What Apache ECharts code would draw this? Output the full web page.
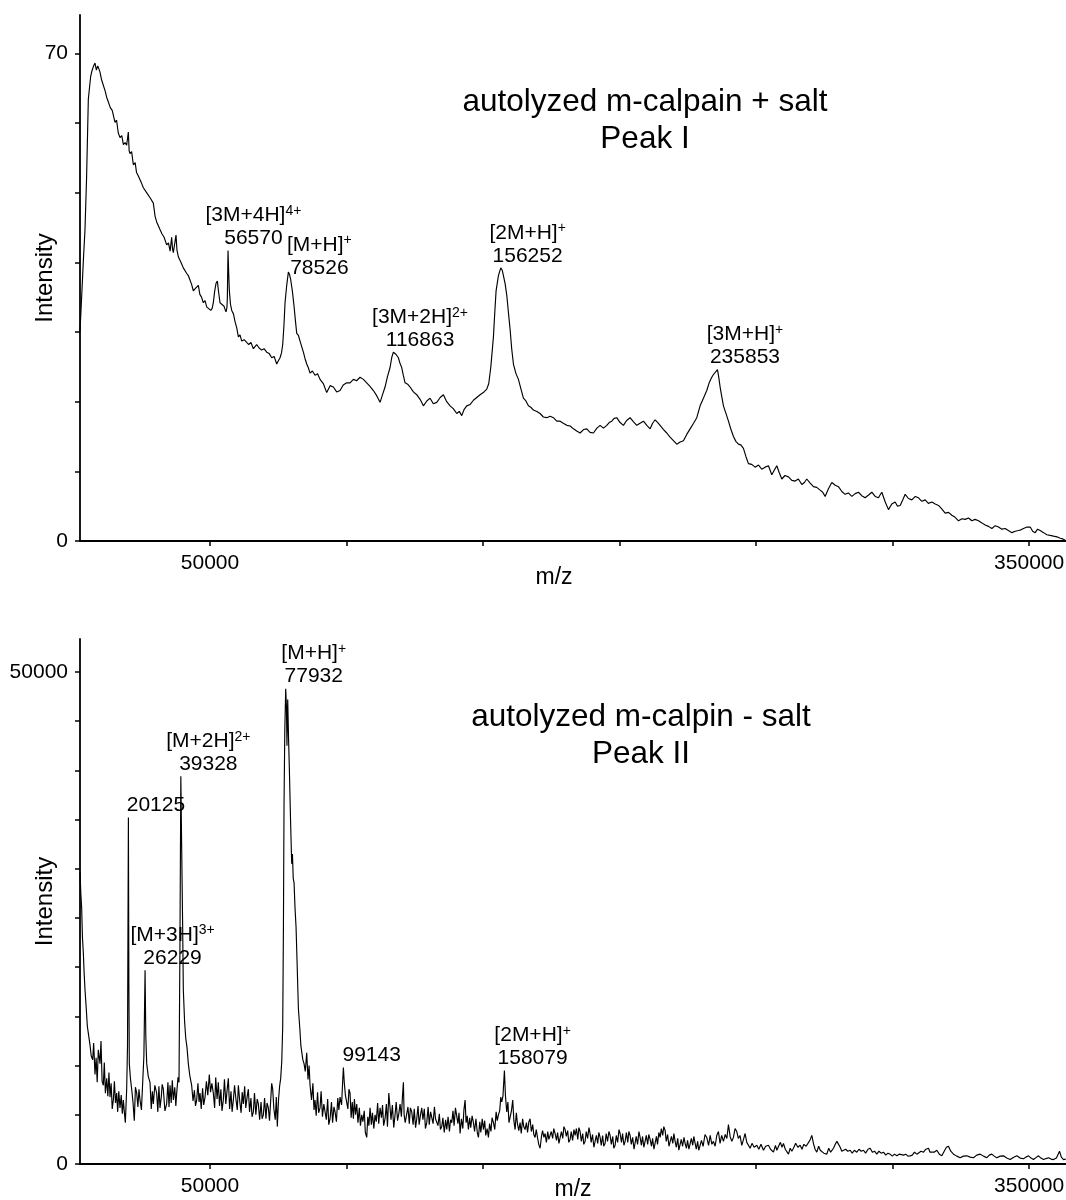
<!DOCTYPE html>
<html>
<head>
<meta charset="utf-8">
<title>autolyzed m-calpain MALDI spectra</title>
<script src="https://cdn.jsdelivr.net/npm/echarts@6.0.0/dist/echarts.min.js"></script>
<style>
  html, body { margin: 0; padding: 0; background: #fff; }
  #charts { width: 1066px; height: 1200px; }
</style>
</head>
<body>
<div id="charts"></div>
<script>
// spectrum I : autolyzed m-calpain + salt   [m/z, intensity]
var spectrumTop = [
  [2400,30.1],[3000,35],[3600,40],[4230,44.7],[4800,52],[5450,63.4],[6310,66.7],[6800,67.5],[7290,68.1],[7890,68.6],
  [8400,67.6],[8900,68.2],[9730,67.3],[10300,66.2],[11000,66.0],[11600,64.6],[12170,63.7],[12800,63.9],[13500,62.2],[14200,61.8],
  [15220,60.1],[15800,60.4],[16400,58.6],[17050,57.9],[17700,58.2],[18300,56.9],[18900,57.2],[19490,56.8],[20100,58.7],[20400,56.0],
  [20720,55.6],[21300,55.9],[21940,54.0],[22600,54.3],[23100,52.9],[23770,52.4],[24300,52.6],[25000,51.3],[25600,50.7],[26200,50.9],
  [26800,50.0],[27430,50.2],[28000,49.3],[28600,49.4],[29260,48.5],[29900,46.6],[30480,45.8],[31100,45.9],[31700,44.7],[32400,44.1],
  [33200,43.6],[34140,42.5],[34800,42.8],[35400,41.6],[35970,43.6],[36300,41.9],[36580,41.4],[37100,41.6],[37560,43.9],[37900,41.8],
  [38410,40.8],[39000,40.6],[39600,39.8],[40240,39.2],[40900,39.4],[41500,38.4],[42070,38.1],[42700,37.9],[43300,36.8],[43900,35.9],
  [44500,36.2],[45100,36.0],[45730,36.7],[46300,35.4],[46900,35.0],[47560,34.2],[48200,34.5],[48800,33.6],[49400,33.7],[50270,33.1],
  [50800,33.4],[51230,34.2],[51700,35.8],[52220,37.0],[52700,37.3],[53200,35.6],[53680,34.2],[54400,34.0],[55150,33.7],[55550,33.2],
  [55880,32.9],[56200,33.5],[56360,34.8],[56610,41.7],[56850,38.5],[57100,35.9],[57500,34.0],[57970,33.1],[58600,32.6],[59180,31.5],
  [59800,30.6],[60400,29.3],[61000,29.6],[61620,28.7],[62500,28.9],[63450,28.5],[64200,28.2],[65000,28.5],[65890,27.6],[66500,27.9],
  [67110,28.2],[68000,27.7],[68940,27.4],[69800,27.6],[70770,27.1],[71700,26.9],[72610,26.3],[73500,26.5],[74440,25.4],[75100,25.9],
  [75660,26.3],[76200,27.0],[76640,28.2],[77100,31.0],[77490,34.2],[78100,36.7],[78710,38.6],[79100,38.3],[79570,37.5],[80200,35.8],
  [80790,33.7],[81300,31.6],[81770,29.8],[82400,29.5],[82990,28.7],[83600,27.9],[84210,27.1],[84800,26.2],[85430,25.4],[86000,24.9],
  [86650,24.1],[87500,24.4],[88480,23.8],[89400,24.0],[90310,23.2],[91500,22.6],[92750,21.3],[94000,22.3],[95190,22.1],[96400,21.4],
  [97640,21.6],[98800,22.4],[100080,22.7],[101300,22.7],[102520,23.2],[103700,23.0],[104960,23.5],[106200,23.2],[107400,22.7],[108600,22.2],
  [109840,21.6],[111000,20.9],[112290,19.9],[113200,21.0],[114120,22.1],[115000,23.6],[115950,24.9],[116600,26.4],[117170,27.1],[118100,26.8],
  [119000,26.3],[119600,25.5],[120220,24.9],[120800,23.8],[121450,22.7],[122400,22.5],[123280,22.1],[124500,21.4],[125720,21.0],[127000,20.3],
  [128160,19.4],[129400,20.1],[130610,20.5],[131800,19.7],[133050,19.9],[134300,20.6],[135490,21.0],[136700,20.0],[137930,19.4],[139100,19.0],
  [140380,18.3],[141300,18.6],[142210,18.0],[143100,18.9],[144040,19.4],[145300,19.6],[146480,20.2],[147700,20.6],[148920,21.0],[150100,21.3],
  [151370,21.8],[152100,22.6],[152830,24.9],[153300,27.0],[153810,29.3],[154300,32.8],[154780,35.9],[155640,38.1],[156490,39.2],[157000,38.9],
  [157470,38.1],[158100,36.9],[158690,35.3],[159300,32.8],[159910,30.4],[160500,27.6],[161130,25.4],[162000,24.1],[162960,23.2],[163900,21.8],
  [164790,20.5],[165700,20.1],[166620,19.4],[167500,19.2],[168450,18.8],[169700,18.6],[170900,18.3],[172100,17.8],[173340,17.7],[174600,17.9],
  [175780,17.7],[177000,17.2],[178220,17.2],[179400,16.9],[180670,16.6],[181900,16.5],[183110,16.1],[184300,15.8],[185550,15.5],[186800,16.0],
  [187990,16.1],[189200,15.6],[190430,15.5],[191700,16.2],[192880,16.6],[194100,16.2],[195320,16.6],[196200,17.0],[197150,17.2],[198000,17.6],
  [198980,17.7],[200200,17.0],[201420,16.6],[202600,17.3],[203870,17.7],[205100,17.1],[206310,16.6],[207500,16.9],[208750,17.2],[210000,16.6],
  [211190,16.1],[212100,16.9],[213020,17.4],[214000,17.0],[214850,16.6],[216100,16.0],[217290,15.5],[218500,14.9],[219730,14.4],[220950,13.9],
  [222200,14.2],[223400,14.4],[224600,15.3],[225840,16.1],[227100,16.9],[228280,17.7],[229500,19.4],[230720,20.5],[231940,21.6],[232900,22.8],
  [233770,23.5],[234400,23.9],[235000,24.1],[235850,24.6],[236300,23.6],[236830,22.1],[237400,20.8],[238050,19.4],[238900,18.4],[239880,17.2],
  [240800,16.0],[241710,15.0],[242600,14.3],[243540,13.9],[244400,13.8],[245370,13.3],[246300,12.1],[247200,11.1],[248400,11.0],[249650,10.6],
  [250900,10.9],[252090,10.3],[253300,10.6],[254530,10.8],[255750,9.5],[256700,10.2],[257580,10.8],[258500,9.8],[259420,8.9],[260600,9.4],
  [261860,9.2],[263100,8.7],[264300,8.6],[265500,8.9],[266740,8.1],[267700,8.4],[268570,8.9],[269800,8.3],[271010,7.8],[272200,7.7],
  [273460,7.3],[274400,7.0],[275290,6.4],[276500,7.5],[277730,8.4],[279000,8.0],[280170,7.8],[281400,7.1],[282620,6.7],[283800,6.9],
  [285060,6.4],[286300,6.8],[287500,7.0],[288700,6.5],[289940,6.2],[291200,6.6],[292380,7.0],[293600,6.4],[294830,6.2],[295400,6.6],
  [296050,7.0],[297300,5.6],[298490,4.5],[299700,5.3],[300930,5.6],[301800,5.0],[302770,5.1],[303700,5.9],[304600,6.7],[305800,6.1],
  [307040,5.9],[308300,6.4],[309480,6.2],[310700,5.7],[311930,5.9],[313100,5.4],[314370,5.6],[315600,5.3],[316810,5.1],[318000,4.6],
  [319250,4.0],[320500,4.1],[321690,3.7],[322900,3.4],[324140,2.9],[325400,3.2],[326580,3.1],[327800,3.3],[329020,2.9],[330200,3.1],
  [331460,2.9],[332700,2.6],[333900,2.3],[335100,2.1],[336350,1.8],[337600,2.2],[338790,2.0],[340000,1.7],[341230,1.8],[342400,1.5],
  [343670,1.2],[344900,1.4],[346110,1.5],[347000,1.6],[347940,1.8],[349200,2.0],[350390,2.0],[351300,1.4],[352220,1.2],[353100,1.7],
  [354050,1.5],[355300,1.2],[356490,0.9],[357700,0.8],[358930,0.7],[360200,0.6],[361380,0.4],[362300,0.3],[363210,0.1]
];

// spectrum II : autolyzed m-calpin - salt   [m/z, intensity]
var spectrumBottom = [
  [2400,29700],[2700,27500],[3010,26000],[3300,23000],[3620,21500],[3900,19500],[4230,17700],[4600,16200],[5090,14000],[5500,13200],
  [6060,12100],[6500,11000],[7040,10600],[7400,12300],[7890,9100],[8300,10800],[8700,8300],[9100,11600],[9730,10200],[10090,12500],
  [10500,8400],[10950,8000],[11300,10300],[11700,7200],[12170,8700],[12600,6900],[13000,9300],[13390,6800],[13800,8200],[14200,5600],
  [14610,6500],[15000,8400],[15400,6200],[15830,7200],[16200,5300],[16600,7400],[17050,5700],[17500,7000],[17900,5100],[18270,6500],
  [18600,5400],[19000,4200],[19490,7600],[19800,12000],[20125,35200],[20300,18000],[20460,10200],[20900,8600],[21330,7600],[21800,6300],
  [22290,4400],[22700,7800],[23170,7200],[23600,5800],[24000,7600],[24380,6500],[24900,5500],[25360,8300],[25800,11000],[26229,19700],
  [26500,13000],[26830,10200],[27400,8900],[28040,8300],[28500,5600],[28900,7400],[29260,6100],[29800,8000],[30480,7200],[30900,5300],
  [31300,7900],[31700,5700],[32200,6900],[32500,8100],[32920,7600],[33500,5400],[34140,6100],[34600,8300],[35000,5800],[35370,8000],
  [35800,6200],[36200,8500],[36590,6500],[37100,7800],[37500,5900],[37810,7200],[38300,8800],[38660,8300],[39000,22000],[39328,39400],
  [39640,32000],[40000,24000],[40240,17700],[40700,14500],[41120,12800],[41600,11800],[42070,10200],[42600,9000],[43290,8000],[43800,6400],
  [44300,7500],[44700,5900],[45130,6500],[45600,8200],[46000,6300],[46360,7200],[46800,5600],[47300,7700],[47700,6000],[48190,6800],
  [48700,8400],[49200,7000],[49760,9100],[50200,7300],[50700,8200],[51230,7200],[51700,5700],[52100,8800],[52600,6600],[53060,8300],
  [53500,5900],[54000,7600],[54400,5400],[54890,6500],[55300,8600],[55800,6100],[56200,7300],[56720,8700],[57200,5600],[57700,7400],
  [58100,5300],[58560,6500],[59000,8000],[59500,6600],[60000,5500],[60390,8000],[60900,6400],[61400,5200],[61800,7300],[62220,6100],
  [62700,7900],[63100,5700],[63600,6800],[64050,7600],[64500,5300],[65000,6700],[65400,4800],[65890,5300],[66300,7200],[66800,5000],
  [67300,6600],[67720,6100],[68200,4500],[68700,6300],[69100,4600],[69550,5000],[70000,6700],[70500,4600],[70900,6200],[71380,5700],
  [71800,4400],[72200,6300],[72600,8200],[72970,7600],[73400,5600],[73900,4500],[74300,6800],[74660,3800],[75100,6500],[75500,7900],
  [75900,8700],[76300,10500],[76640,14000],[76900,24000],[77120,36500],[77400,44000],[77740,48300],[78000,46500],[78200,42500],[78470,47200],
  [78800,43000],[79070,40200],[79500,35000],[79930,30500],[80200,31500],[80500,29000],[80790,28600],[81150,26000],[81520,24100],[81900,20500],
  [82380,15800],[82900,13800],[83300,12000],[83600,12100],[84000,10600],[84450,10200],[84900,9400],[85430,11300],[85900,8600],[86300,10000],
  [86650,8000],[87200,6500],[87700,8200],[88100,5500],[88480,6500],[88900,4900],[89400,7300],[89800,5200],[90310,5700],[90700,7400],
  [91200,4800],[91700,6100],[92140,6100],[92600,4500],[93100,6600],[93500,4000],[93980,4600],[94500,6300],[94900,4200],[95400,5800],
  [95810,5300],[96300,4300],[96800,6700],[97200,5500],[97640,6800],[98200,6000],[98600,8400],[98860,9800],[99200,8200],[99600,7000],
  [100080,6800],[100500,5600],[100900,7600],[101300,7200],[101700,4700],[102100,6300],[102520,4600],[102900,6600],[103300,5000],[103750,6100],
  [104200,4200],[104700,5700],[105100,3900],[105580,5000],[106000,4300],[106500,5400],[106900,3200],[107410,2700],[107800,4800],[108200,3900],
  [108630,5700],[109100,4000],[109500,5200],[110000,3600],[110460,5000],[110900,4300],[111400,6200],[111800,4100],[112290,5700],[112800,4700],
  [113200,6000],[113600,3900],[114120,4600],[114600,6100],[115000,3800],[115500,7200],[115950,7200],[116300,4500],[116800,6000],[117300,3700],
  [117780,5000],[118200,6300],[118700,4400],[119200,5200],[119620,6100],[120100,4800],[120500,6900],[120840,8300],[121100,5000],[121500,4200],
  [122060,4200],[122500,5800],[123000,4100],[123400,5700],[123890,5300],[124400,4000],[124800,5600],[125300,3700],[125730,4600],[126200,5900],
  [126600,4000],[127100,5000],[127560,5700],[128000,4500],[128500,5600],[128900,3600],[129390,4200],[129900,5800],[130300,4000],[130800,5300],
  [131220,5300],[131700,4100],[132200,5800],[132600,4600],[133050,4800],[133500,3900],[134000,5100],[134400,3500],[134890,3800],[135300,4700],
  [135800,3200],[136300,4500],[136720,3500],[137200,4800],[137700,3300],[138100,4500],[138550,4200],[139000,5400],[139400,3900],[139900,5700],
  [140380,5700],[140800,4100],[141200,5200],[141600,3100],[142100,4600],[142600,3600],[143000,5500],[143430,6500],[143800,4200],[144200,4900],
  [144650,3500],[145100,4700],[145500,3700],[146000,4900],[146480,4200],[146900,3300],[147400,4600],[147900,3200],[148320,2700],[148800,4300],
  [149200,3200],[149700,4600],[150150,3500],[150600,4400],[151000,2900],[151500,3600],[151980,2700],[152400,4100],[152900,3300],[153300,4700],
  [153810,4200],[154300,3500],[154800,5300],[155200,4400],[155640,5000],[156100,5400],[156500,6800],[156860,6300],[157300,6900],[157830,9500],
  [158200,7000],[158690,5300],[159100,6300],[159500,4200],[159910,4200],[160400,5400],[160880,6500],[161300,4400],[161740,3500],[162200,5200],
  [162600,4100],[163100,3400],[163570,4200],[164000,3100],[164500,4600],[164900,3800],[165400,3500],[165900,4200],[166300,3200],[166800,4300],
  [167230,4600],[167700,3300],[168200,4000],[168600,3000],[169060,2700],[169500,3500],[170000,2600],[170400,2000],[170900,1600],[171400,2800],
  [171800,3400],[172300,2700],[172730,3100],[173200,2200],[173700,3300],[174100,2500],[174560,2300],[175000,3300],[175500,2600],[175900,3600],
  [176390,3100],[176900,2400],[177300,3200],[177800,2100],[178220,2300],[178700,3300],[179200,2600],[179600,3800],[180060,3500],[180500,2800],
  [181000,3400],[181400,2200],[181890,2500],[182300,3300],[182800,2400],[183300,3500],[183720,2900],[184200,3600],[184700,2500],[185100,3700],
  [185550,3300],[186000,2300],[186500,3100],[186900,2000],[187380,2300],[187800,3300],[188300,2600],[188800,3700],[189210,3100],[189600,2200],
  [190100,3000],[190600,1700],[191050,1900],[191500,2900],[192000,2100],[192400,3200],[192880,2700],[193300,1900],[193800,2900],[194200,1800],
  [194710,2100],[195100,3100],[195600,2300],[196100,3300],[196540,2900],[197000,2000],[197500,2800],[197900,1600],[198370,1900],[198800,2900],
  [199300,2200],[199800,3500],[200200,3100],[200700,2200],[201100,3100],[201600,1900],[202040,2300],[202500,3200],[203000,2200],[203400,3300],
  [203870,2900],[204300,2000],[204800,2700],[205300,1500],[205700,1700],[206100,2800],[206600,2000],[207100,3300],[207530,2700],[208000,1900],
  [208400,2800],[208900,1700],[209360,1900],[209800,2900],[210300,2000],[210700,3000],[211190,2500],[211700,1800],[212100,2600],[212600,1500],
  [213020,1700],[213500,2800],[213900,2000],[214400,3200],[214860,2700],[215300,3600],[215800,2900],[216200,3800],[216690,3400],[217100,2300],
  [217600,3000],[218100,1800],[218520,1900],[219000,2800],[219500,2100],[219900,3100],[220350,2300],[220800,1700],[221300,2600],[221700,1400],
  [222180,1600],[222600,2500],[223100,1800],[223600,2700],[224010,2100],[224500,1600],[224900,2400],[225400,1500],[225840,1700],[226300,2600],
  [226800,1900],[227200,2800],[227680,2100],[228100,1500],[228600,2300],[229000,1400],[229510,1900],[230000,2400],[230600,1800],[231300,3000],
  [231940,2700],[232600,1900],[233200,2900],[233800,2000],[234380,2300],[235000,1800],[235600,2900],[236210,3300],[236800,2100],[237400,2900],
  [238050,2300],[238700,3000],[239300,2600],[239880,4000],[240500,2800],[241100,2300],[241700,2700],[242300,3600],[242930,3300],[243500,2600],
  [244100,2900],[244760,1900],[245400,2500],[245980,3100],[246600,2200],[247200,2000],[247820,1600],[248500,2100],[249300,1700],[250260,1900],
  [251000,1500],[251800,2000],[252700,1400],[253500,1800],[254530,1900],[255300,1500],[256000,1700],[256360,1200],[257100,1900],[257600,1400],
  [258190,1600],[258900,2200],[259500,1700],[260020,2100],[260700,1500],[261300,1300],[261860,1000],[262500,1600],[263100,1300],[263690,1600],
  [264500,2100],[265300,1700],[266130,1900],[266800,1500],[267500,2000],[268330,1800],[269000,2000],[269700,2400],[270410,2900],[271000,2100],
  [271600,1500],[272240,1200],[272900,1800],[273500,1400],[274070,1600],[274800,1100],[275400,1300],[275900,1000],[276600,1600],[277300,1200],
  [278340,1600],[279000,2000],[279600,2300],[280170,2500],[280800,1700],[281400,1300],[282000,1200],[282800,1500],[283600,1300],[284450,1400],
  [285200,1100],[286000,1400],[286890,1200],[287700,1500],[288500,1300],[289330,1400],[290100,1100],[291000,1500],[291780,1600],[292600,1200],
  [293400,1300],[294220,1000],[295000,1300],[295800,1100],[296660,1200],[297500,900],[298300,1100],[299100,1000],[299900,800],[300700,1000],
  [301540,830],[302400,1000],[303100,800],[303980,900],[304800,1000],[305600,800],[306430,830],[307200,900],[308000,1200],[308870,1000],
  [309600,1100],[310400,1300],[311310,1200],[312200,1500],[313140,1600],[313700,1200],[314360,1000],[315200,1200],[316190,1400],[317100,1000],
  [318020,830],[318900,1300],[319700,1700],[320460,1800],[321300,1300],[322300,1000],[323500,800],[324740,640],[325900,800],[327180,830],
  [328400,700],[329620,640],[330800,900],[332070,1000],[333300,800],[334510,640],[335400,900],[336340,1000],[337200,800],[338170,640],
  [339400,800],[340610,830],[341800,600],[343060,450],[344200,650],[345500,830],[346700,600],[347940,530],[348800,700],[349770,830],
  [350700,600],[351600,450],[352500,650],[353430,830],[354300,600],[355270,450],[356200,550],[357100,640],[358000,500],[358930,450],
  [360000,600],[360600,800],[361130,1300],[361800,700],[362600,450],[363400,500]
];

// peak annotations
var topPeakNames = ['[3M+4H]', '[M+H]', '[3M+2H]', '[2M+H]', '[3M+H]'];
var topPeakCharges = ['4+', '+', '2+', '+', '+'];
var topPeakMz = [56570, 78526, 116863, 156252, 235853];

var bottomPeakNames = ['', '[M+3H]', '[M+2H]', '[M+H]', '', '[2M+H]'];
var bottomPeakCharges = ['', '3+', '2+', '+', '', '+'];
var bottomPeakMz = [20125, 26229, 39328, 77932, 99143, 158079];

// axis ticks
var mzTicks = [50000, 100000, 150000, 200000, 250000, 300000, 350000];
var mzLabels = [50000, 350000];
var topIntTicks = [0, 10, 20, 30, 40, 50, 60, 70];
var topIntLabels = [0, 70];
var bottomIntTicks = [0, 5000, 10000, 15000, 20000, 25000, 30000, 35000, 40000, 45000, 50000];
var bottomIntLabels = [0, 50000];

var FONT = "'Liberation Sans', Arial, Helvetica, sans-serif";

// plain numbers, no thousands separator
function plain(v) { return String(v); }

var Spectra = {

	init: function () {
		this.chart = echarts.init(document.getElementById('charts'), null, {renderer: 'canvas'});
		this.render();
	},

	// highest point of the trace near a given m/z
	apex: function (data, mz) {
		var best = 0;
		for (var i = 0; i < data.length; i++) {
			if (Math.abs(data[i][0] - mz) <= 2000 && data[i][1] > best) best = data[i][1];
		}
		return best;
	},

	// nudge: optional per-label pixel shift so neighbouring labels don't touch
	peakPoints: function (data, names, charges, mzs, nudge) {
		var _self = this;
		return mzs.map(function (mz, i) {
			var txt = '';
			if (names[i]) txt += '{n|' + names[i] + '}{s|' + charges[i] + '}\n';
			txt += '{n|' + mz + '}';
			var d = (nudge && nudge[i]) || [0, 0];
			return {
				coord: [mz, _self.apex(data, mz)],
				label: {formatter: txt, position: [28 + d[0], d[1]]}
			};
		});
	},

	xAxisOpt: function (gridIndex, nameGap, namePad) {
		return {
			type: 'value', gridIndex: gridIndex, min: 2400, max: 363500,
			name: 'm/z', nameLocation: 'middle', nameGap: nameGap, nameMoveOverlap: false,
			nameTextStyle: {fontSize: 23, color: '#000', fontFamily: FONT, padding: namePad},
			axisLine: {onZero: false, lineStyle: {color: '#000', width: 1.8}},
			axisTick: {show: true, length: 5, lineStyle: {color: '#000', width: 1.5}, customValues: mzTicks},
			axisLabel: {fontSize: 21, color: '#000', fontFamily: FONT, margin: 12, customValues: mzLabels, formatter: plain},
			splitLine: {show: false}
		};
	},

	yAxisOpt: function (gridIndex, max, ticks, labels) {
		return {
			type: 'value', gridIndex: gridIndex, min: 0, max: max,
			name: 'Intensity', nameLocation: 'middle', nameGap: 23, nameMoveOverlap: false,
			nameTextStyle: {fontSize: 24, color: '#000', fontFamily: FONT},
			axisLine: {show: true, lineStyle: {color: '#000', width: 1.8}},
			axisTick: {show: true, length: 5, lineStyle: {color: '#000', width: 1.5}, customValues: ticks},
			axisLabel: {fontSize: 21, color: '#000', fontFamily: FONT, margin: 12, customValues: labels, formatter: plain},
			splitLine: {show: false}
		};
	},

	seriesOpt: function (idx, data, points) {
		return {
			type: 'line', xAxisIndex: idx, yAxisIndex: idx, data: data,
			showSymbol: false, symbol: 'none', sampling: 'none', silent: true,
			lineStyle: {color: '#000', width: 1.15},
			markPoint: {
				symbol: 'circle', symbolSize: 1, silent: true,
				itemStyle: {color: 'rgba(0,0,0,0)'},
				label: {
					show: true, position: [28, 0], align: 'center', verticalAlign: 'bottom',
					rich: {
						n: {fontSize: 21, lineHeight: 23, color: '#000', fontFamily: FONT},
						s: {fontSize: 14, lineHeight: 13, verticalAlign: 'top', color: '#000', fontFamily: FONT}
					}
				},
				data: points
			}
		};
	},

	render: function () {
		var titleStyle = {fontSize: 31.5, fontWeight: 'normal', lineHeight: 37, color: '#000', fontFamily: FONT};
		var option = {
			animation: false,
			backgroundColor: '#fff',
			title: [
				{text: 'autolyzed m-calpain + salt\nPeak I', left: 645, top: 84, textAlign: 'center', padding: 0, textStyle: titleStyle},
				{text: 'autolyzed m-calpin - salt\nPeak II', left: 641, top: 699, textAlign: 'center', padding: 0, textStyle: titleStyle}
			],
			grid: [
				{left: 80, top: 15, width: 986, height: 526, containLabel: false, outerBoundsMode: 'none'},
				{left: 80, top: 639, width: 986, height: 525, containLabel: false, outerBoundsMode: 'none'}
			],
			xAxis: [this.xAxisOpt(0, 25, [0, 38, 0, 0]), this.xAxisOpt(1, 14, [0, 0, 0, 0])],
			yAxis: [
				this.yAxisOpt(0, 75.5, topIntTicks, topIntLabels),
				this.yAxisOpt(1, 53350, bottomIntTicks, bottomIntLabels)
			],
			series: [
				this.seriesOpt(0, spectrumTop, this.peakPoints(spectrumTop, topPeakNames, topPeakCharges, topPeakMz, [[-2, 0], [4, 8]])),
				this.seriesOpt(1, spectrumBottom, this.peakPoints(spectrumBottom, bottomPeakNames, bottomPeakCharges, bottomPeakMz))
			]
		};
		this.chart.setOption(option);
	}
};

Spectra.init();
</script>
</body>
</html>
